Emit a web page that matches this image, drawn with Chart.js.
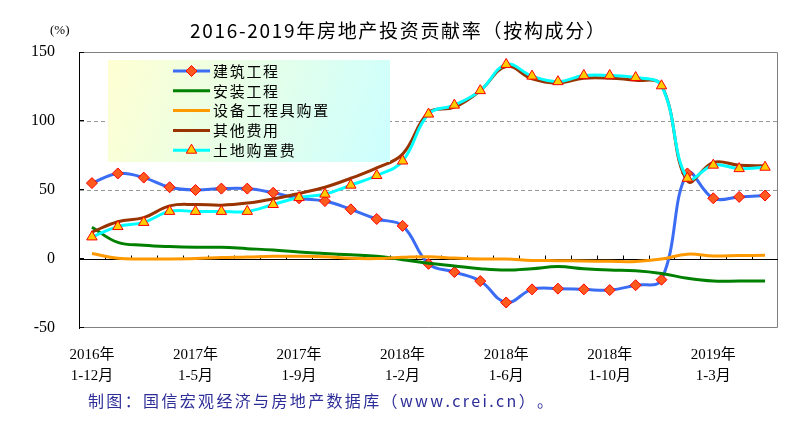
<!DOCTYPE html>
<html>
<head>
<meta charset="utf-8">
<script src="https://cdn.jsdelivr.net/npm/chart.js@4.4.1/dist/chart.umd.min.js"></script>
<style>
  html, body { margin: 0; padding: 0; background: #fff; }
  #wrap { width: 791px; height: 434px; position: relative; }
</style>
</head>
<body>
<div id="wrap"><canvas id="c"></canvas></div>
<script>
const categories = [
  ['2016年', '1-12月'],
  ['2017年', '1-2月'], ['2017年', '1-3月'], ['2017年', '1-4月'], ['2017年', '1-5月'],
  ['2017年', '1-6月'], ['2017年', '1-7月'], ['2017年', '1-8月'], ['2017年', '1-9月'],
  ['2017年', '1-10月'], ['2017年', '1-11月'], ['2017年', '1-12月'],
  ['2018年', '1-2月'], ['2018年', '1-3月'], ['2018年', '1-4月'], ['2018年', '1-5月'],
  ['2018年', '1-6月'], ['2018年', '1-7月'], ['2018年', '1-8月'], ['2018年', '1-9月'],
  ['2018年', '1-10月'], ['2018年', '1-11月'], ['2018年', '1-12月'],
  ['2019年', '1-2月'], ['2019年', '1-3月'], ['2019年', '1-4月'], ['2019年', '1-5月']
];

const construction = [55, 62, 59, 52, 50, 51, 51, 48, 44, 42, 36, 29, 24, -3.5, -9.5, -16, -31.5, -22, -21.5, -22, -22.5, -19, -15, 62, 44, 45, 46];
const installation = [23, 12, 10, 9, 8.5, 8.5, 7.5, 6.5, 5, 4, 3, 2, -0.5, -3, -5, -7, -8, -7, -5.5, -7, -8, -8.5, -10.5, -14, -16, -16, -16];
const equipment = [4, 0.5, 0, 0, 0.3, 1, 1.4, 2, 2, 1.7, 0.5, 0.3, 1.2, 1.7, 0.7, 0, 0, -1, -1.2, -1.5, -1.7, -1.8, 0, 3.5, 2.2, 2.5, 2.7];
const otherCosts = [19.5, 27, 30, 38.5, 39.5, 39, 40.5, 43.5, 47.5, 52, 58.5, 66, 76, 106, 110, 122, 139.5, 130.5, 127.5, 131, 131, 129.5, 126, 56.5, 70, 68, 67.5];
const landPurchase = [16, 23.5, 26.5, 34.5, 34.5, 34.5, 34.5, 39.5, 44.5, 47, 53.5, 60.5, 71, 105, 111.5, 122, 141, 132.5, 128.5, 133, 133, 131.5, 125.5, 58.5, 68, 65.5, 66.5];

const seriesNames = ['建筑工程', '安装工程', '设备工程具购置', '其他费用', '土地购置费'];
const yTicks = [-50, 0, 50, 100, 150];

const titleText = '2016-2019年房地产投资贡献率（按构成分）';
const footerText = '制图：国信宏观经济与房地产数据库（www.crei.cn）。';

const numFont = "'Liberation Serif', 'Noto Sans CJK SC', serif";
const cjkFont = "'Noto Sans CJK SC', sans-serif";

// draw text char by char so it spans a given width
function spacedText(ctx, text, x, y, width) {
  const chars = Array.from(text);
  let total = 0;
  chars.forEach(ch => { total += ctx.measureText(ch).width; });
  const gap = chars.length > 1 ? (width - total) / (chars.length - 1) : 0;
  let cx = x;
  chars.forEach(ch => {
    ctx.fillText(ch, cx, y);
    cx += ctx.measureText(ch).width + gap;
  });
}

const decor = {
  id: 'decor',
  beforeDatasetsDraw(chart) {
    const { ctx, chartArea: a, scales: { x, y } } = chart;
    ctx.save();
    // frame
    ctx.strokeStyle = '#808080';
    ctx.lineWidth = 1;
    ctx.beginPath();
    ctx.moveTo(a.left, a.top + 0.5);
    ctx.lineTo(a.right - 0.5, a.top + 0.5);
    ctx.lineTo(a.right - 0.5, a.bottom - 0.5);
    ctx.lineTo(a.left, a.bottom - 0.5);
    ctx.stroke();
    // zero line
    const y0 = Math.round(y.getPixelForValue(0)) + 0.5;
    ctx.strokeStyle = '#000';
    ctx.beginPath();
    ctx.moveTo(a.left, y0);
    ctx.lineTo(a.right, y0);
    // category tick marks on the zero line
    const half = (x.getPixelForValue(1) - x.getPixelForValue(0)) / 2;
    for (let i = 0; i < categories.length - 1; i++) {
      const px = Math.round(x.getPixelForValue(i) + half) + 0.5;
      ctx.moveTo(px, y0);
      ctx.lineTo(px, y0 - 4);
    }
    // inward y ticks
    yTicks.forEach(v => {
      const py = Math.round(y.getPixelForValue(v)) + (v === 150 ? 0.5 : -0.5);
      ctx.moveTo(a.left, py);
      ctx.lineTo(a.left + 5, py);
    });
    ctx.stroke();
    ctx.restore();
  },
  afterDatasetsDraw(chart) {
    const { ctx } = chart;
    ctx.save();
    const bx = 108, by = 60, bw = 282, bh = 102;
    const g = ctx.createLinearGradient(bx, by, bx + bw, by + bh);
    g.addColorStop(0, '#FFFFD2');
    g.addColorStop(1, '#CCFFFF');
    ctx.fillStyle = g;
    ctx.fillRect(bx, by, bw, bh);
    ctx.font = '15px ' + cjkFont;
    ctx.textBaseline = 'middle';
    chart.data.datasets.forEach((ds, i) => {
      const ly = 71 + i * 19.8;
      ctx.strokeStyle = ds.borderColor;
      ctx.lineWidth = 3;
      ctx.beginPath();
      ctx.moveTo(173, ly);
      ctx.lineTo(210, ly);
      ctx.stroke();
      if (ds.pointRadius > 0) {
        ctx.fillStyle = ds.pointBackgroundColor;
        ctx.strokeStyle = ds.pointBorderColor;
        ctx.lineWidth = 1;
        Chart.helpers.drawPoint(ctx, {
          pointStyle: ds.pointStyle, radius: ds.pointRadius, rotation: 0,
          borderWidth: 1
        }, 191.5, ly);
      }
      ctx.fillStyle = '#000';
      spacedText(ctx, ds.label, 213, ly, ds.label.length * 16.7 - 1.7);
    });
    ctx.restore();
  },
  afterDraw(chart) {
    const { ctx } = chart;
    ctx.save();
    ctx.fillStyle = '#000';
    ctx.textBaseline = 'middle';
    ctx.font = '19px ' + cjkFont;
    spacedText(ctx, titleText, 190, 31, 415);
    ctx.font = '13px ' + numFont;
    ctx.fillText('(%)', 50, 31);
    ctx.fillStyle = '#2E2E99';
    ctx.font = '16px ' + cjkFont;
    spacedText(ctx, footerText, 88, 401, 465);
    ctx.restore();
  }
};

const datasets = [
  {
    label: seriesNames[0], data: construction, order: 4,
    borderColor: '#3A6CF4', pointStyle: 'rectRot', pointRadius: 5.5,
    pointBackgroundColor: '#FF5A1E', pointBorderColor: '#FF0000'
  },
  { label: seriesNames[1], data: installation, order: 3, borderColor: '#008000', pointRadius: 0 },
  { label: seriesNames[2], data: equipment, order: 2, borderColor: '#FF9900', pointRadius: 0 },
  { label: seriesNames[3], data: otherCosts, order: 1, borderColor: '#993300', pointRadius: 0 },
  {
    label: seriesNames[4], data: landPurchase, order: 0,
    borderColor: '#00FFFF', pointStyle: 'triangle', pointRadius: 6,
    pointBackgroundColor: '#FFCC00', pointBorderColor: '#FF0000'
  }
].map(ds => Object.assign({
  borderWidth: 3, tension: 0.4, pointBorderWidth: 1, pointHoverRadius: 0, fill: false
}, ds));

const chart = new Chart(document.getElementById('c'), {
  type: 'line',
  data: { labels: categories, datasets },
  options: {
    responsive: true,
    maintainAspectRatio: false,
    animation: false,
    layout: { padding: { top: 52, right: 13, left: 0, bottom: 0 } },
    plugins: { legend: { display: false }, tooltip: { enabled: false }, title: { display: false } },
    scales: {
      x: {
        offset: true,
        grid: { display: false },
        border: { display: false },
        afterFit: s => { s.height = 106; },
        ticks: {
          autoSkip: false, maxRotation: 0, minRotation: 0, padding: 9,
          color: '#000',
          font: { family: numFont, size: 15, lineHeight: 1.4 },
          callback(value, index) { return index % 4 === 0 ? this.getLabelForValue(value) : ''; }
        }
      },
      y: {
        min: -50, max: 150,
        afterFit: s => { s.width = 79; },
        afterBuildTicks: s => { s.ticks = yTicks.map(v => ({ value: v })); },
        grid: {
          drawTicks: false,
          color: c => (c.tick && (c.tick.value === 50 || c.tick.value === 100)) ? '#999999' : 'rgba(0,0,0,0)'
        },
        border: { display: true, color: '#000', width: 1, dash: [4, 3] },
        ticks: {
          padding: 24, color: '#000',
          font: { family: numFont, size: 16 }
        }
      }
    }
  },
  plugins: [decor]
});
</script>
</body>
</html>
